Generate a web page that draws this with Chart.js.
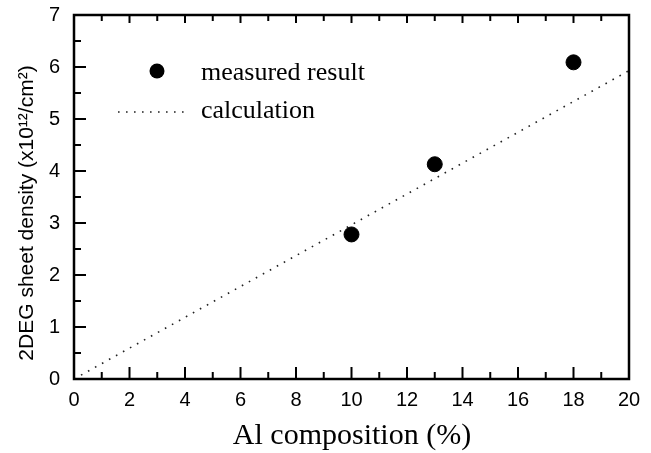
<!DOCTYPE html>
<html>
<head>
<meta charset="utf-8">
<script src="https://cdn.jsdelivr.net/npm/chart.js@4"></script>
<style>
  html, body { margin: 0; padding: 0; background: #fff; }
  canvas { display: block; }
</style>
</head>
<body>
<canvas id="chart" width="651" height="453"></canvas>
<script>
// measured 2DEG sheet density vs Al composition
const measuredX = [10, 13, 18]
const measuredY = [2.78, 4.13, 6.09]

// calculated line, end points
const calcX = [0, 20]
const calcY = [0, 5.93]

const xTitle = 'Al composition (%)'
const yTitle = '2DEG sheet density (x10\u00b9\u00b2/cm\u00b2)'
const legendLabels = ['measured result', 'calculation']

const SANS = '"Liberation Sans", Arial, sans-serif'
const SERIF = '"Liberation Serif", "Times New Roman", serif'

function toPoints(xs, ys) {
  return xs.map((x, i) => ({x: x, y: ys[i]}))
}

// draws the frame, inward ticks, legend and axis titles
const decorations = {
  id: 'decorations',
  afterDraw(chart) {
    let {ctx, chartArea: a, scales} = chart
    let xs = scales.x, ys = scales.y
    ctx.save()
    ctx.strokeStyle = '#000'
    ctx.lineCap = 'butt'

    // inward tick marks
    ctx.lineWidth = 2
    ctx.beginPath()
    for (let v = 1; v < 20; v++) {
      let px = xs.getPixelForValue(v)
      let major = v % 2 === 0
      ctx.moveTo(px, a.bottom)
      ctx.lineTo(px, a.bottom - (major ? 12 : 7))
      ctx.moveTo(px, a.top)
      ctx.lineTo(px, a.top + (major ? 8 : 6))
    }
    for (let v = 0.5; v < 7; v += 0.5) {
      let py = ys.getPixelForValue(v)
      let major = Number.isInteger(v)
      ctx.moveTo(a.left, py)
      ctx.lineTo(a.left + (major ? 12 : 7), py)
    }
    ctx.stroke()

    // frame
    ctx.lineWidth = 2.5
    ctx.strokeRect(a.left, a.top, a.right - a.left, a.bottom - a.top)

    // legend
    let ds = chart.data.datasets
    ctx.fillStyle = ds[0].backgroundColor
    ctx.beginPath()
    ctx.arc(157, 71, ds[0].pointRadius, 0, Math.PI * 2)
    ctx.fill()
    ctx.strokeStyle = ds[1].borderColor
    ctx.lineWidth = ds[1].borderWidth
    ctx.setLineDash(ds[1].borderDash)
    ctx.beginPath()
    ctx.moveTo(118, 112)
    ctx.lineTo(188, 112)
    ctx.stroke()
    ctx.setLineDash([])

    ctx.fillStyle = '#000'
    ctx.font = '26px ' + SERIF
    ctx.textAlign = 'left'
    ctx.textBaseline = 'middle'
    ctx.fillText(legendLabels[0], 201, 73)
    ctx.fillText(legendLabels[1], 201, 111)

    // axis titles
    ctx.textAlign = 'center'
    ctx.font = '30px ' + SERIF
    ctx.fillText(xTitle, 352, 436)
    ctx.translate(27, 213)
    ctx.rotate(-Math.PI / 2)
    ctx.font = '21px ' + SANS
    ctx.fillText(yTitle, 0, 0)
    ctx.restore()
  }
}

new Chart(document.getElementById('chart'), {
  type: 'scatter',
  data: {
    datasets: [
      {
        label: legendLabels[0],
        data: toPoints(measuredX, measuredY),
        backgroundColor: '#000',
        borderColor: '#000',
        pointRadius: 7.5,
        pointHoverRadius: 7.5,
        showLine: false
      },
      {
        label: legendLabels[1],
        data: toPoints(calcX, calcY),
        showLine: true,
        borderColor: '#222',
        borderWidth: 1.6,
        borderDash: [1.6, 6.4],
        pointRadius: 0,
        fill: false
      }
    ]
  },
  options: {
    responsive: false,
    animation: false,
    devicePixelRatio: 1,
    layout: {padding: {top: 15, right: 22, left: 0, bottom: 0}},
    plugins: {
      legend: {display: false},
      tooltip: {enabled: false}
    },
    scales: {
      x: {
        type: 'linear',
        min: 0,
        max: 20,
        grid: {display: false, drawTicks: false},
        border: {display: false},
        ticks: {
          stepSize: 2,
          padding: 9,
          color: '#000',
          font: {family: SANS, size: 20}
        },
        afterFit(scale) {
          scale.height = 74
          scale.paddingLeft = 0
          scale.paddingRight = 0
        }
      },
      y: {
        type: 'linear',
        min: 0,
        max: 7,
        grid: {display: false, drawTicks: false},
        border: {display: false},
        ticks: {
          stepSize: 1,
          padding: 14,
          color: '#000',
          font: {family: SANS, size: 20}
        },
        afterFit(scale) {
          scale.width = 74
          scale.paddingTop = 0
          scale.paddingBottom = 0
        }
      }
    }
  },
  plugins: [decorations]
})
</script>
</body>
</html>
